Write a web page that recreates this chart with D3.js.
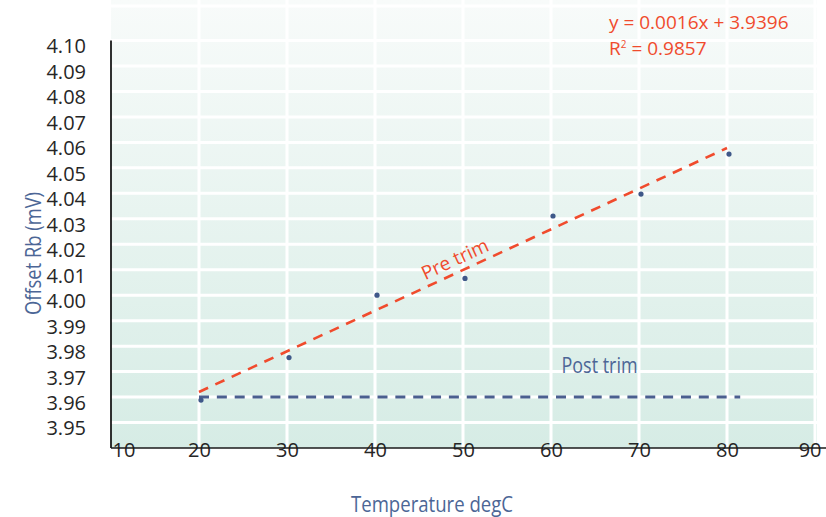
<!DOCTYPE html>
<html>
<head>
<meta charset="utf-8">
<script src="https://cdn.jsdelivr.net/npm/d3@7"></script>
<style>
	html, body { margin: 0; padding: 0; background: #ffffff; }
	svg { display: block; font-family: "Open Sans", "Noto Sans", sans-serif; }
</style>
</head>
<body>
<svg id="chart" width="826" height="517"></svg>
<script>

// measured points (degC, mV)
var temps		= [20, 30, 40, 50, 60, 70, 80];
var offsets		= [3.9588, 3.9755, 4.0000, 4.0066, 4.0311, 4.0397, 4.0554];

// trend lines as drawn
var preTrimX	= [20, 80];
var preTrimY	= [3.962, 4.0578];
var postTrimX	= [20, 81.5];
var postTrimY	= [3.96, 3.96];

var xTicks		= [10, 20, 30, 40, 50, 60, 70, 80, 90];
var yTicks		= [3.95, 3.96, 3.97, 3.98, 3.99, 4.00, 4.01, 4.02, 4.03, 4.04, 4.05, 4.06, 4.07, 4.08, 4.09, 4.10];
var yGrid		= yTicks.concat([4.1135]);

var equationText	= "y = 0.0016x + 3.9396";
var r2Value			= "0.9857";

var RED		= "#f04b2d";
var BLUE	= "#3f5889";
var TITLE	= "#4c6696";

var svg = d3.select("#chart");

var xScale = d3.scaleLinear().domain([10, 90]).range([111, 815]);
var yScale = d3.scaleLinear().domain([3.94, 4.10]).range([448, 40.5]);

/**
 * background gradient of the plot area
 */
var grad = svg.append("defs").append("linearGradient")
	.attr("id", "bg")
	.attr("x1", 0).attr("y1", 0).attr("x2", 0).attr("y2", 1);
grad.append("stop").attr("offset", "0%").attr("stop-color", "#f8fbfa");
grad.append("stop").attr("offset", "100%").attr("stop-color", "#d6ece5");

svg.append("rect")
	.attr("x", xScale(10))
	.attr("y", 0)
	.attr("width", xScale(90) - xScale(10) + 2)
	.attr("height", yScale(3.94))
	.style("fill", "url(#bg)");

// grid lines
svg.append("g").selectAll("line.hgrid")
	.data(yGrid)
	.enter()
	.append("line")
		.attr("class", "hgrid")
		.attr("x1", xScale(10)).attr("x2", xScale(90) + 2)
		.attr("y1", function(d) { return yScale(d); })
		.attr("y2", function(d) { return yScale(d); })
		.style("stroke", "#ffffff")
		.style("stroke-width", 3);

svg.append("g").selectAll("line.vgrid")
	.data(xTicks.slice(1))
	.enter()
	.append("line")
		.attr("class", "vgrid")
		.attr("x1", function(d) { return xScale(d); })
		.attr("x2", function(d) { return xScale(d); })
		.attr("y1", 0).attr("y2", yScale(3.94))
		.style("stroke", "#ffffff")
		.style("stroke-width", 3);

/**
 * axes
 */
var xAxis = d3.axisBottom(xScale).tickValues(xTicks).tickSize(0).tickFormat(d3.format("d"));
var gx = svg.append("g")
	.attr("class", "x axis")
	.attr("transform", "translate(0," + yScale(3.94) + ")")
	.call(xAxis);
gx.select(".domain").remove();
gx.selectAll("text")
	.attr("y", 0)
	.attr("dy", "0.47em")
	.style("font-size", "20px")
	.style("fill", "#262626")
	.style("font-family", "'Open Sans', sans-serif");
gx.selectAll(".tick").filter(function(d) { return d === 10; }).select("text")
	.attr("text-anchor", "start").attr("dx", 1);
gx.selectAll(".tick").filter(function(d) { return d === 90; }).select("text")
	.attr("text-anchor", "end").attr("dx", 6);

svg.append("line")
	.attr("x1", xScale(10)).attr("x2", 826)
	.attr("y1", yScale(3.94)).attr("y2", yScale(3.94))
	.style("stroke", "#1a1a1a")
	.style("stroke-width", 1.6);

var yAxis = d3.axisLeft(yScale).tickValues(yTicks).tickSize(0).tickFormat(d3.format(".2f"));
var gy = svg.append("g")
	.attr("class", "y axis")
	.attr("transform", "translate(" + xScale(10) + ",0)")
	.call(yAxis);
gy.select(".domain").remove();
gy.selectAll("text")
	.attr("x", -25)
	.attr("dy", "0.62em")
	.style("font-size", "20px")
	.style("fill", "#262626")
	.style("font-family", "'Open Sans', sans-serif");

svg.append("line")
	.attr("x1", xScale(10)).attr("x2", xScale(10))
	.attr("y1", yScale(4.10)).attr("y2", yScale(3.94))
	.style("stroke", "#1a1a1a")
	.style("stroke-width", 1.8);

/**
 * trend lines
 */
var line = d3.line()
	.x(function(d) { return xScale(d[0]); })
	.y(function(d) { return yScale(d[1]); });

svg.append("path")
	.datum(d3.zip(postTrimX, postTrimY))
	.attr("d", line)
	.style("fill", "none")
	.style("stroke", "#4a5f8f")
	.style("stroke-width", 3)
	.style("stroke-dasharray", "10,7.85");

svg.append("path")
	.datum(d3.zip(preTrimX, preTrimY))
	.attr("d", line)
	.style("fill", "none")
	.style("stroke", RED)
	.style("stroke-width", 2.6)
	.style("stroke-dasharray", "10,8");

// points
svg.selectAll(".dot")
	.data(d3.zip(temps, offsets))
	.enter()
	.append("circle")
		.attr("class", "dot")
		.attr("cx", function(d) { return xScale(d[0]) + 2; })
		.attr("cy", function(d) { return yScale(d[1]); })
		.attr("r", 2.6)
		.style("fill", BLUE);

/**
 * labels
 */
var p0 = [xScale(preTrimX[0]), yScale(preTrimY[0])];
var p1 = [xScale(preTrimX[1]), yScale(preTrimY[1])];
var angle = Math.atan2(p1[1] - p0[1], p1[0] - p0[0]) * 180 / Math.PI;

svg.append("text")
	.attr("transform", "translate(" + xScale(49.4) + "," + yScale(4.0118) + ") rotate(" + angle + ")")
	.attr("text-anchor", "middle")
	.style("font-size", "19px")
	.style("fill", RED)
	.text("Pre trim");

svg.append("text")
	.attr("x", xScale(61.2))
	.attr("y", yScale(3.9693))
	.attr("textLength", 76)
	.attr("lengthAdjust", "spacingAndGlyphs")
	.style("font-size", "21px")
	.style("fill", TITLE)
	.text("Post trim");

var eq = svg.append("text")
	.style("font-size", "19px")
	.style("fill", RED);
eq.append("tspan").attr("x", 609).attr("y", 29).text(equationText);
var r2 = svg.append("text")
	.attr("x", 609).attr("y", 55)
	.style("font-size", "19px")
	.style("fill", RED);
r2.append("tspan").text("R");
r2.append("tspan").attr("dy", -7).style("font-size", "10px").text("2");
r2.append("tspan").attr("dy", 7).text(" = " + r2Value);

// axis titles
svg.append("text")
	.attr("x", 351)
	.attr("y", 512)
	.attr("textLength", 162)
	.attr("lengthAdjust", "spacingAndGlyphs")
	.style("font-size", "21px")
	.style("fill", TITLE)
	.text("Temperature degC");

svg.append("text")
	.attr("transform", "translate(41,315) rotate(-90)")
	.attr("textLength", 123)
	.attr("lengthAdjust", "spacingAndGlyphs")
	.style("font-size", "21px")
	.style("fill", TITLE)
	.text("Offset Rb (mV)");

</script>
</body>
</html>
